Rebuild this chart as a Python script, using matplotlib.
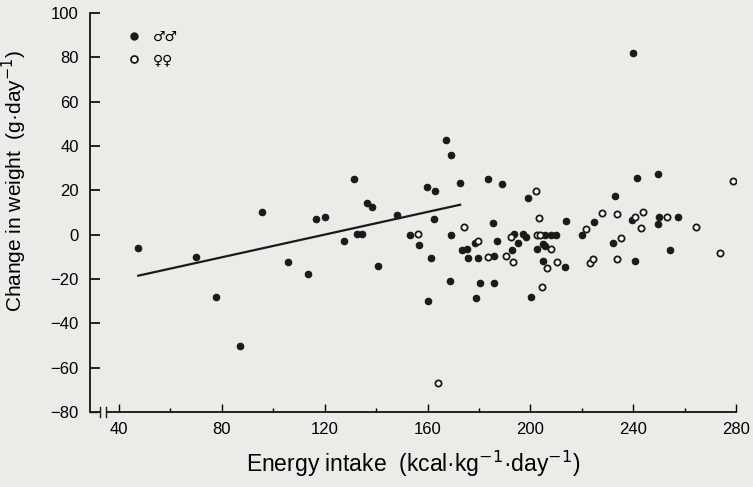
import numpy as np
import matplotlib
matplotlib.use('Agg')
import matplotlib.pyplot as plt
from matplotlib.lines import Line2D

plt.rcParams['font.family'] = ['Liberation Sans', 'DejaVu Sans']

# males (filled circles): energy intake, weight change
male_intake = [47.5, 69.8, 77.7, 86.9, 95.5, 105.9, 113.5, 116.6, 120.1, 127.6,
               131.3, 132.5, 134.5, 136.3, 138.5, 140.9, 148.0, 153.1, 156.8, 159.8,
               160.2, 161.5, 162.5, 162.9, 167.3, 169.1, 169.1, 168.7, 172.7, 173.4,
               175.4, 175.6, 178.5, 179.0, 179.8, 180.3, 183.4, 185.3, 185.8, 186.0,
               187.0, 189.0, 193.0, 193.8, 195.1, 197.3, 198.4, 199.0, 200.3, 202.6,
               204.9, 205.0, 205.8, 205.8, 207.9, 210.1, 213.5, 213.7, 220.0, 224.8,
               232.1, 233.0, 239.6, 240.8, 241.4, 239.9, 249.6, 249.6, 250.1, 254.2,
               257.5]
male_change = [-6.0, -10.2, -28.2, -50.0, 10.2, -12.2, -17.7, 7.2, 7.8, -2.8,
               25.1, 0.1, 0.1, 14.4, 12.7, -14.1, 9.0, 0.0, -4.5, 21.3,
               -30.0, -10.5, 7.1, 19.9, 42.7, 36.1, 0.0, -21.0, 23.1, -6.7,
               -6.3, -10.7, -3.6, -28.5, -10.7, -21.6, 24.9, 5.1, -9.4, -21.6,
               -3.0, 23.0, -7.0, 0.1, -3.6, 0.1, -1.0, 16.4, -28.2, -6.3,
               -11.7, -4.0, -5.3, -0.3, -0.3, -0.3, -14.6, 6.2, -0.3, 5.9,
               -3.8, 17.6, 6.8, -11.7, 25.5, 82.0, 27.3, 4.6, 7.8, -6.8,
               8.1]

# females (open circles)
female_intake = [156.2, 164.1, 174.2, 179.6, 183.4, 190.6, 192.3, 193.2, 202.1, 202.5,
                 203.3, 203.9, 204.6, 206.4, 208.1, 210.5, 221.6, 223.3, 224.4, 227.7,
                 233.7, 233.8, 235.3, 240.7, 243.2, 243.9, 253.1, 264.3, 273.6, 278.8]
female_change = [0.1, -66.9, 3.6, -3.0, -10.1, -9.4, -1.0, -12.4, 19.8, -0.3,
                 7.7, -0.3, -23.4, -15.0, -6.4, -12.4, 2.7, -12.6, -10.8, 9.8,
                 -10.8, 9.1, -1.4, 8.0, 3.2, 10.2, 7.8, 3.4, -8.1, 24.3]

# regression line for males
fit_x = [47.5, 172.7]
fit_y = [-18.5, 13.5]

bg = '#ecebe7'
fig = plt.figure(figsize=(7.53, 4.87), dpi=100, facecolor=bg)
ax = fig.add_axes([0.1195, 0.154, 0.8579, 0.8193])
ax.set_facecolor(bg)

ax.scatter(male_intake, male_change, s=22, c='#1a1a1a', edgecolors='#1a1a1a', linewidths=0.8, zorder=3)
ax.scatter(female_intake, female_change, s=20, facecolors='white', edgecolors='#1a1a1a', linewidths=1.3, zorder=3)
ax.plot(fit_x, fit_y, color='#1a1a1a', lw=1.6, zorder=2)

ax.set_xlim(28.7, 280)
ax.set_ylim(-80, 100)
ax.set_xticks(np.arange(40, 281, 40))
ax.set_xticks(np.arange(60, 280, 40), minor=True)
ax.set_yticks(np.arange(-80, 101, 20))

for s in ['top', 'right']:
    ax.spines[s].set_visible(False)
ax.spines['left'].set_linewidth(1.2)
ax.spines['bottom'].set_linewidth(1.2)
ax.spines['bottom'].set_bounds(35.3, 280)

ax.tick_params(axis='y', direction='in', length=7, width=1.2, pad=8, labelsize=12)
ax.tick_params(axis='x', which='major', direction='in', length=6, width=1.0, pad=7, labelsize=12)
ax.tick_params(axis='x', which='minor', direction='in', length=3, width=1.0)

# axis break marks
ax.plot([0, 0.011], [0, 0], transform=ax.transAxes, color='#1a1a1a', lw=1.0, clip_on=False)
for bx in [0.0155, 0.0248]:
    ax.plot([bx, bx], [-0.012, 0.012], transform=ax.transAxes, color='#1a1a1a', lw=1.0, clip_on=False)

ax.set_xlabel('Energy intake  (kcal·kg$^{-1}$·day$^{-1}$)', fontsize=16.5, labelpad=9)
ax.set_ylabel('Change in weight  (g·day$^{-1}$)', fontsize=15)
ax.yaxis.set_label_coords(-0.094, 0.58)

handles = [Line2D([], [], ls='none', marker='o', ms=5, mfc='#1a1a1a', mec='#1a1a1a'),
           Line2D([], [], ls='none', marker='o', ms=5, mfc='white', mec='#1a1a1a', mew=1.3)]
ax.legend(handles, ['♂♂', '♀♀'], loc='upper left', bbox_to_anchor=(0.027, 0.99),
          frameon=False, fontsize=10, handletextpad=0.4, labelspacing=0.7,
          prop={'family': ['DejaVu Sans']})

plt.savefig('out.png', dpi=100, facecolor=bg)
